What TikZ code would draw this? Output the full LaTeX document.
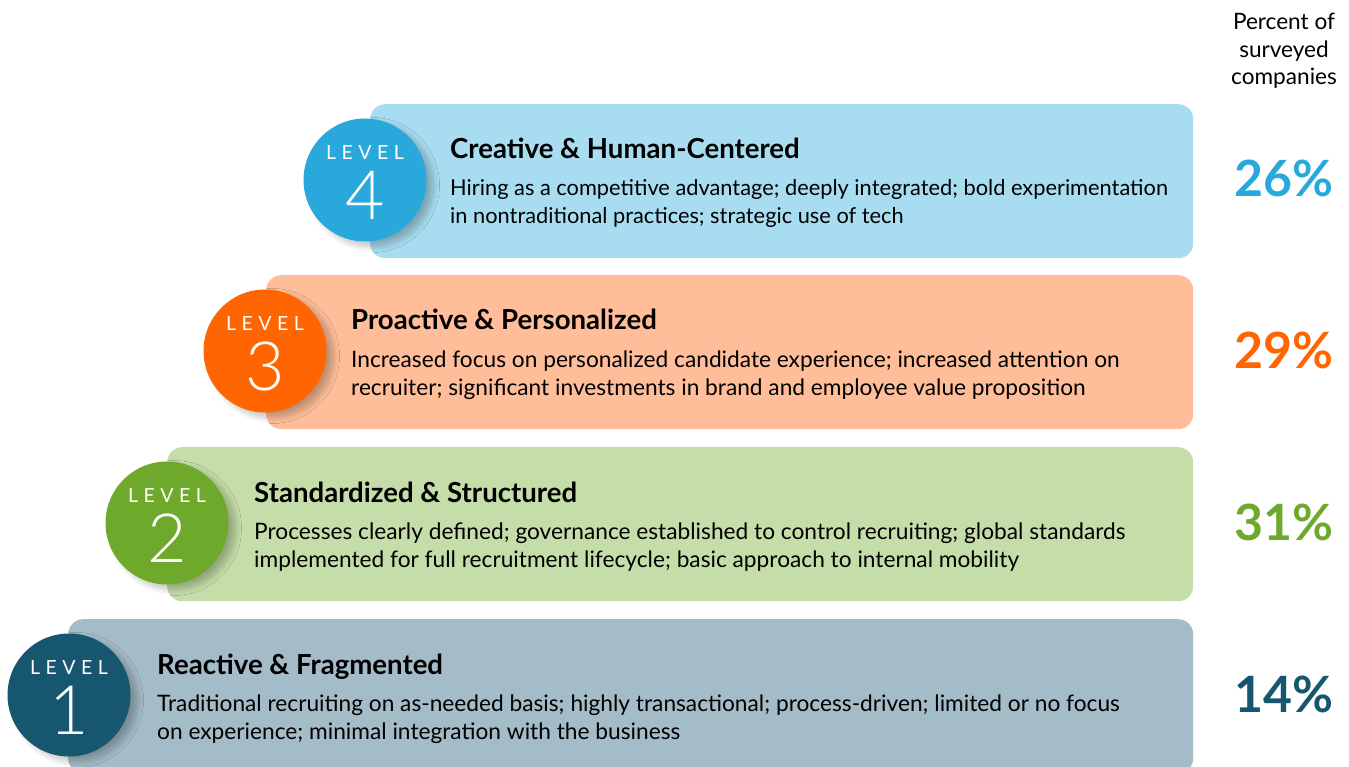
\documentclass[tikz,border=0pt]{standalone}
\usepackage{fontspec}
\setmainfont{Lato}
\newfontfamily\lightlato{Lato Light}
\usetikzlibrary{shadows.blur}
\definecolor{onemain}{HTML}{17566F}
\definecolor{onesoft}{HTML}{A3BCC8}
\definecolor{twomain}{HTML}{6FA92B}
\definecolor{twosoft}{HTML}{C5DEA9}
\definecolor{threemain}{HTML}{FF6500}
\definecolor{threesoft}{HTML}{FFBE99}
\definecolor{fourmain}{HTML}{29A9DB}
\definecolor{foursoft}{HTML}{A8DDF1}
\tikzset{
        levelbox/.style={rounded corners=15pt, inner sep=0pt, minimum height=154pt, anchor=north west}, % the coloured band
        levelball/.style={circle, inner sep=0pt, minimum size=123pt,
                blur shadow={shadow xshift=7pt, shadow yshift=-5pt, shadow blur radius=6pt, shadow blur steps=12, shadow opacity=25}},
        leveltag/.style={text=white, inner sep=0pt, font=\fontsize{19.5}{19.5}\selectfont\addfontfeatures{LetterSpace=28}},
        levelnum/.style={text=white, inner sep=0pt, font=\lightlato\fontsize{68}{68}\selectfont},
        leveltitle/.style={anchor=base west, inner sep=0pt, font=\bfseries\fontsize{27.6}{30}\selectfont},
        levelbody/.style={anchor=base west, inner sep=0pt, align=left, font=\fontsize{#1}{28}\selectfont},
        levelpct/.style={anchor=base, inner sep=0pt, font=\bfseries\fontsize{50}{50}\selectfont},
}

\begin{document}
\begin{tikzpicture}[x=1pt, y=-1pt]
    \useasboundingbox (0,0) rectangle (1349,767);
    % column header
    \node[align=center, inner sep=0pt, font=\fontsize{22.6}{27.5}\selectfont] (head) at (1284,51) {Percent of\\surveyed\\companies};
    % one band per level, bottom to top
    \foreach \lv/\cx/\bx/\tx/\top/\main/\soft/\title/\bsize/\body/\pct in {
        1/69/68/157/619/onemain/onesoft/{Reactive \& Fragmented}/22.7/{Traditional recruiting on as-needed basis; highly transactional; process-driven; limited or no focus\\on experience; minimal integration with the business}/14,
        2/167/167/254/447/twomain/twosoft/{Standardized \& Structured}/22.7/{Processes clearly defined; governance established to control recruiting; global standards\\implemented for full recruitment lifecycle; basic approach to internal mobility}/31,
        3/265/266/351/275/threemain/threesoft/{Proactive \& Personalized}/22.7/{Increased focus on personalized candidate experience; increased attention on\\recruiter; significant investments in brand and employee value proposition}/29,
        4/365/370/450/104/fourmain/foursoft/{Creative \& Human-Centered}/21.8/{Hiring as a competitive advantage; deeply integrated; bold experimentation\\in nontraditional practices; strategic use of tech}/26}
    {
        \pgfmathsetmacro\bw{1193-\bx}
        \node[levelbox, fill=\soft, minimum width=\bw pt] (box\lv) at (\bx,\top) {};
        \node[levelball, fill=\main] (ball\lv) at (\cx,\top+76) {};
        \node[leveltag] (tag\lv) at ([yshift=27pt]ball\lv.center) {LEVEL};
        \node[levelnum] (num\lv) at ([yshift=-15pt]ball\lv.center) {\lv};
        \node[leveltitle] (title\lv) at (\tx,\top+55) {\title};
        \node[levelbody=\bsize] (body\lv) at (\tx,\top+120) {\body};
        \node[levelpct, text=\main] (pct\lv) at (1284,\top+93) {\pct\%};
    }
\end{tikzpicture}
\end{document}
